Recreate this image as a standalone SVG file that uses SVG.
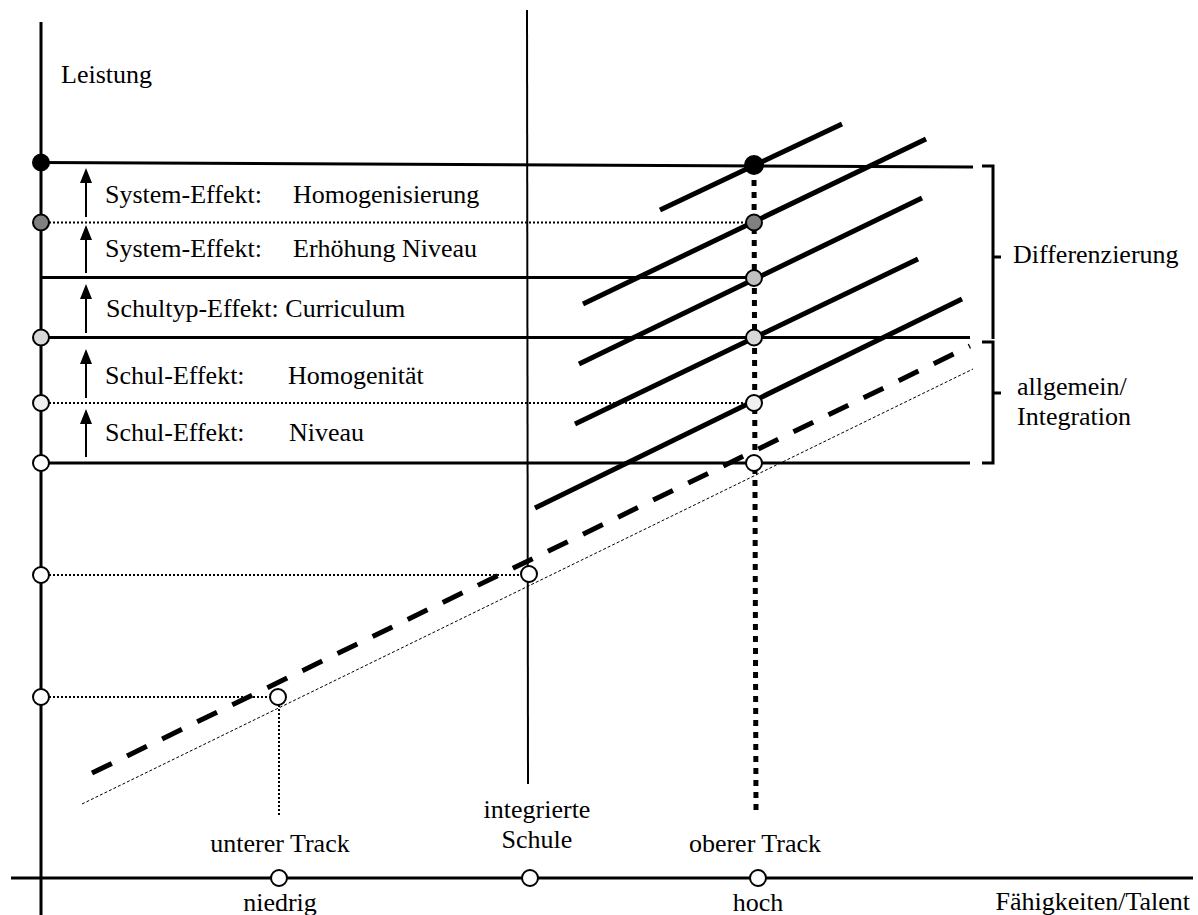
<svg xmlns="http://www.w3.org/2000/svg" width="1198" height="915" viewBox="0 0 1198 915">
<style>
  text { font-family: "Liberation Serif", "Times New Roman", serif; font-size: 26px; fill: #000; }
  .mid { text-anchor: middle; }
  .end { text-anchor: end; }
  .axis { stroke: #000; stroke-width: 3; fill: none; }
  .thin { stroke: #000; stroke-width: 2; fill: none; }
  .hline { stroke: #000; stroke-width: 3; fill: none; }
  .dot { stroke: #000; stroke-width: 2; stroke-dasharray: 2 2; fill: none; }
  .track { stroke: #000; stroke-width: 5; fill: none; }
  .dash { stroke: #000; stroke-width: 5; stroke-dasharray: 22 17; fill: none; }
  .fine { stroke: #000; stroke-width: 1; stroke-dasharray: 3 2; fill: none; }
  .bigdot { stroke: #000; stroke-width: 5; stroke-dasharray: 6 6; fill: none; }
  .arrow { stroke: #000; stroke-width: 2; fill: none; marker-end: url(#ah); }
  .pt { stroke: #000; stroke-width: 2; }
  .bracket { stroke: #000; stroke-width: 3; fill: none; }
</style>
<defs>
  <marker id="ah" markerUnits="userSpaceOnUse" markerWidth="16" markerHeight="14" refX="11" refY="6" orient="auto">
    <path d="M0,0 L15,6 L0,12 z" fill="#000"/>
  </marker>
</defs>

<g id="axes">
  <line class="axis" x1="41" y1="22" x2="41" y2="915"/>
  <line class="axis" x1="11" y1="878" x2="1193" y2="878"/>
  <line class="thin" x1="527" y1="10" x2="528" y2="784"/>
</g>

<g id="connectors">
  <!-- horizontal levels -->
  <line class="hline" x1="41" y1="162.5" x2="973" y2="167"/>
  <line class="dot" x1="41" y1="222.5" x2="754" y2="222.5"/>
  <line class="hline" x1="41" y1="277.5" x2="752" y2="277.5"/>
  <line class="hline" x1="41" y1="337.5" x2="970" y2="337.5"/>
  <line class="dot" x1="41" y1="403" x2="754" y2="403"/>
  <line class="hline" x1="41" y1="463" x2="970" y2="463"/>
  <line class="dot" x1="41" y1="575" x2="529" y2="575"/>
  <line class="dot" x1="41" y1="697" x2="278" y2="697"/>
  <line class="dot" x1="279" y1="705" x2="279" y2="817"/>

  <!-- slanted lines -->
  <line class="fine" x1="82" y1="804" x2="973" y2="369"/>
  <line class="dash" x1="92" y1="773" x2="970" y2="346"/>
  <line class="track" x1="535" y1="508" x2="962" y2="299"/>
  <line class="track" x1="575" y1="424" x2="918" y2="259"/>
  <line class="track" x1="579" y1="364" x2="922" y2="198"/>
  <line class="track" x1="583" y1="304" x2="926" y2="139"/>
  <line class="track" x1="660" y1="210" x2="842" y2="124"/>

  <!-- thick dotted vertical -->
  <line class="bigdot" x1="754" y1="168" x2="756" y2="812"/>

  <!-- effect arrows -->
  <line class="arrow" x1="86" y1="217" x2="86" y2="172"/>
  <line class="arrow" x1="86" y1="273" x2="86" y2="229"/>
  <line class="arrow" x1="86" y1="333" x2="86" y2="288"/>
  <line class="arrow" x1="86" y1="398" x2="86" y2="353"/>
  <line class="arrow" x1="86" y1="457" x2="86" y2="413"/>

  <!-- brackets -->
  <path class="bracket" d="M982,166 H993 V339"/>
  <line class="bracket" x1="993" y1="257" x2="1001" y2="257"/>
  <path class="bracket" d="M982,342 H993 V463 H982"/>
  <line class="bracket" x1="993" y1="393" x2="1001" y2="393"/>
</g>

<g id="points-left">
  <circle class="pt" cx="41" cy="162.5" r="8" fill="#000"/>
  <circle class="pt" cx="41" cy="222.5" r="8" fill="#808080"/>
  <circle class="pt" cx="41" cy="337.5" r="8" fill="#d8d8d8"/>
  <circle class="pt" cx="41" cy="403" r="8" fill="#f0f0f0"/>
  <circle class="pt" cx="41" cy="463" r="8" fill="#fff"/>
  <circle class="pt" cx="41" cy="575" r="8" fill="#fff"/>
  <circle class="pt" cx="41" cy="697" r="8" fill="#fff"/>
</g>

<g id="points-upper-track">
  <circle class="pt" cx="754" cy="165" r="9" fill="#000"/>
  <circle class="pt" cx="754" cy="222.5" r="8" fill="#808080"/>
  <circle class="pt" cx="754" cy="278" r="8" fill="#c0c0c0"/>
  <circle class="pt" cx="754" cy="337.5" r="8" fill="#d8d8d8"/>
  <circle class="pt" cx="754" cy="403" r="8" fill="#f0f0f0"/>
  <circle class="pt" cx="754" cy="463" r="8" fill="#fff"/>
</g>

<g id="points-other">
  <circle class="pt" cx="529" cy="574" r="8" fill="#fff"/>
  <circle class="pt" cx="278" cy="697" r="8" fill="#fff"/>
  <circle class="pt" cx="279" cy="878" r="8" fill="#fff"/>
  <circle class="pt" cx="530" cy="878" r="8" fill="#fff"/>
  <circle class="pt" cx="758" cy="878" r="8" fill="#fff"/>
</g>

<g id="labels-effects">
  <text x="61" y="83">Leistung</text>
  <text x="105" y="203">System-Effekt:</text>
  <text x="293" y="203">Homogenisierung</text>
  <text x="105" y="257">System-Effekt:</text>
  <text x="293" y="257">Erhöhung Niveau</text>
  <text x="106" y="317">Schultyp-Effekt: Curriculum</text>
  <text x="105" y="384">Schul-Effekt:</text>
  <text x="288" y="384">Homogenität</text>
  <text x="105" y="441">Schul-Effekt:</text>
  <text x="289" y="441">Niveau</text>
</g>

<g id="labels-brackets">
  <text x="1013" y="263">Differenzierung</text>
  <text x="1017" y="395">allgemein/</text>
  <text x="1017" y="425">Integration</text>
</g>

<g id="labels-axis">
  <text class="mid" x="280" y="852">unterer Track</text>
  <text class="mid" x="280" y="911">niedrig</text>
  <text class="mid" x="537" y="818">integrierte</text>
  <text class="mid" x="537" y="848">Schule</text>
  <text class="mid" x="755" y="852">oberer Track</text>
  <text class="mid" x="758" y="911">hoch</text>
  <text class="end" x="1190" y="910">Fähigkeiten/Talent</text>
</g>
</svg>
